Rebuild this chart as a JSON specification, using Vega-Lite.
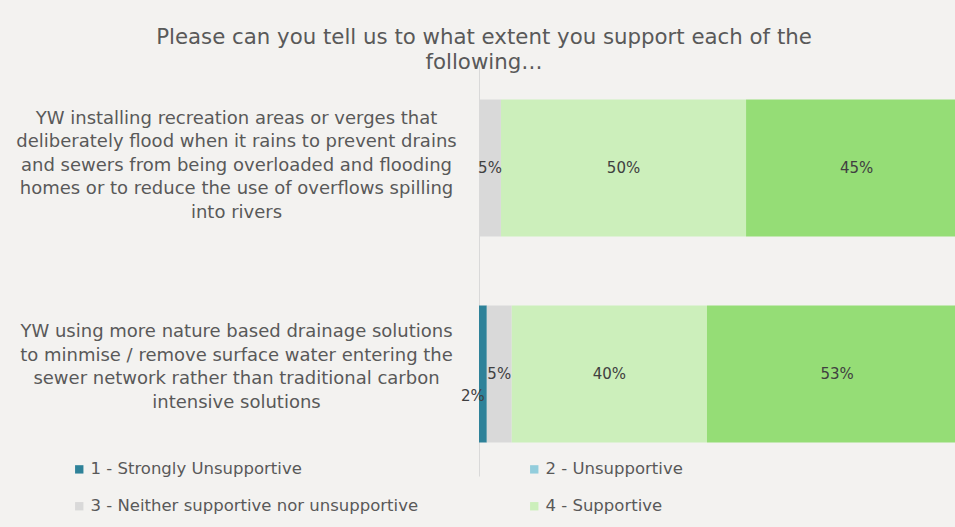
{
  "$schema": "https://vega.github.io/schema/vega-lite/v6.json",
  "autosize": "none",
  "width": 476,
  "height": 410,
  "padding": {"left": 479, "top": 66, "right": 0, "bottom": 51},
  "background": "#f3f2f0",
  "config": {"view": {"stroke": null}, "font": "DejaVu Sans"},
  "title": {
    "text": ["Please can you tell us to what extent you support each of the", "following…"],
    "anchor": "middle",
    "frame": "group",
    "dx": -233,
    "fontSize": 21.3,
    "fontWeight": "normal",
    "color": "#595959",
    "lineHeight": 25,
    "offset": -7
  },
  "data": {
    "values": [
      {"q": "YW installing recreation areas or verges that|deliberately flood when it rains to prevent drains|and sewers from being overloaded and flooding|homes or to reduce the use of overflows spilling|into rivers", "cat": "3 - Neither supportive nor unsupportive", "value": 4.5, "label": "5%"},
      {"q": "YW installing recreation areas or verges that|deliberately flood when it rains to prevent drains|and sewers from being overloaded and flooding|homes or to reduce the use of overflows spilling|into rivers", "cat": "4 - Supportive", "value": 50.2, "label": "50%"},
      {"q": "YW installing recreation areas or verges that|deliberately flood when it rains to prevent drains|and sewers from being overloaded and flooding|homes or to reduce the use of overflows spilling|into rivers", "cat": "5 - Strongly supportive", "value": 45.3, "label": "45%"},
      {"q": "YW using more nature based drainage solutions|to minmise / remove surface water entering the|sewer network rather than traditional carbon|intensive solutions", "cat": "1 - Strongly Unsupportive", "value": 1.6, "label": "2%"},
      {"q": "YW using more nature based drainage solutions|to minmise / remove surface water entering the|sewer network rather than traditional carbon|intensive solutions", "cat": "3 - Neither supportive nor unsupportive", "value": 5.1, "label": "5%"},
      {"q": "YW using more nature based drainage solutions|to minmise / remove surface water entering the|sewer network rather than traditional carbon|intensive solutions", "cat": "4 - Supportive", "value": 40.0, "label": "40%"},
      {"q": "YW using more nature based drainage solutions|to minmise / remove surface water entering the|sewer network rather than traditional carbon|intensive solutions", "cat": "5 - Strongly supportive", "value": 53.3, "label": "53%"}
    ]
  },
  "transform": [
    {"stack": "value", "groupby": ["q"], "sort": [{"field": "cat"}], "as": ["x0", "x1"]}
  ],
  "encoding": {
    "y": {
      "field": "q",
      "type": "nominal",
      "sort": null,
      "scale": {"paddingInner": 0.335, "paddingOuter": 0.1625},
      "axis": {
        "title": null,
        "ticks": false,
        "domainColor": "#d9d9d9",
        "labelExpr": "split(datum.label, '|')",
        "labelAlign": "center",
        "labelBaseline": "middle",
        "labelPadding": 243,
        "labelOffset": {"condition": {"test": "indexof(datum.value, 'installing') >= 0", "value": -49}, "value": -42},
        "labelLimit": 0,
        "labelFontSize": 18,
        "labelColor": "#595959",
        "labelLineHeight": 23.5
      }
    }
  },
  "layer": [
    {
      "mark": {"type": "bar", "clip": true},
      "encoding": {
        "x": {
          "field": "x0",
          "type": "quantitative",
          "scale": {"domain": [0, 97.5], "nice": false, "zero": true},
          "axis": null
        },
        "x2": {"field": "x1"},
        "color": {
          "field": "cat",
          "type": "nominal",
          "scale": {
            "domain": ["1 - Strongly Unsupportive", "2 - Unsupportive", "3 - Neither supportive nor unsupportive", "4 - Supportive", "5 - Strongly supportive"],
            "range": ["#2e8299", "#92cddc", "#d9d9d9", "#ccefbb", "#95dd76"]
          },
          "legend": {
            "values": ["1 - Strongly Unsupportive", "3 - Neither supportive nor unsupportive", "2 - Unsupportive", "4 - Supportive"],
            "title": null,
            "orient": "none",
            "legendX": -408,
            "legendY": 395,
            "columns": 2,
            "columnPadding": 107,
            "rowPadding": 20,
            "symbolType": "square",
            "symbolSize": 70,
            "symbolStrokeWidth": 0,
            "labelFontSize": 16.5,
            "labelColor": "#595959",
            "labelOffset": 3,
            "labelLimit": 0
          }
        }
      }
    },
    {
      "transform": [
        {"filter": "datum.value >= 3"},
        {"fold": ["x0", "x1"], "as": ["edge", "pos"]}
      ],
      "mark": {"type": "text", "fontSize": 15, "color": "#404040"},
      "encoding": {
        "x": {"aggregate": "mean", "field": "pos", "type": "quantitative"},
        "text": {"field": "label"}
      }
    },
    {
      "transform": [
        {"filter": "datum.value < 3"},
        {"fold": ["x0", "x1"], "as": ["edge", "pos"]}
      ],
      "mark": {"type": "text", "fontSize": 15, "color": "#404040", "dx": -10, "dy": 22},
      "encoding": {
        "x": {"aggregate": "mean", "field": "pos", "type": "quantitative"},
        "text": {"field": "label"}
      }
    }
  ]
}
